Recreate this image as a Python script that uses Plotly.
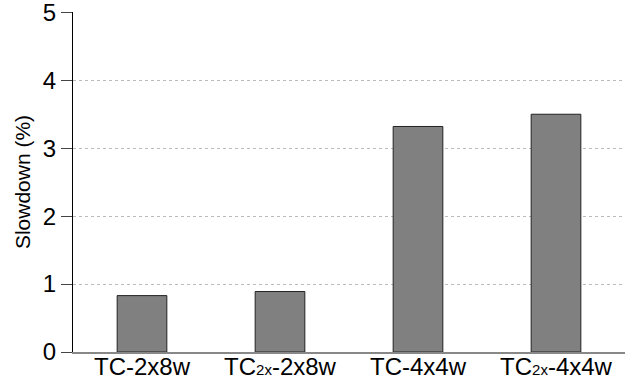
import plotly.graph_objects as go

SUB = '<span style="font-size:15px">2x</span>'
categories = ["TC-2x8w", f"TC{SUB}-2x8w", "TC-4x4w", f"TC{SUB}-4x4w"]
values = [0.83, 0.89, 3.32, 3.50]
y_ticks = [0, 1, 2, 3, 4, 5]

fig = go.Figure()
fig.add_trace(go.Bar(
    x=categories, y=values, width=0.36,
    marker=dict(color="#808080", line=dict(color="#222222", width=1)),
))
fig.update_layout(
    width=630, height=381,
    margin=dict(l=73, r=5, t=12, b=29),
    plot_bgcolor="white", paper_bgcolor="white",
    font=dict(family="Liberation Sans, Arial, sans-serif", size=22, color="black"),
    showlegend=False,
    xaxis=dict(range=[-0.5, 3.5], showgrid=False, showline=True, linecolor="#888888",
               linewidth=1.5, ticks="", tickfont=dict(size=24), automargin=False,
               ticklabelstandoff=-8, ticklabeloverflow="allow"),
    yaxis=dict(range=[0, 5.005], tickvals=y_ticks, showgrid=True, gridcolor="#bbbbbb",
               griddash="dot", gridwidth=1, showline=True, linecolor="black", linewidth=1,
               ticks="outside", ticklen=11, tickcolor="#444444", zeroline=False,
               tickfont=dict(size=24), automargin="left", ticklabeloverflow="allow",
               title=dict(text="Slowdown (%)", font=dict(size=21), standoff=6)),
)
fig.write_html("out.html", config={"displayModeBar": False},
               post_script="document.body.style.margin='0';document.body.style.overflow='hidden';")
